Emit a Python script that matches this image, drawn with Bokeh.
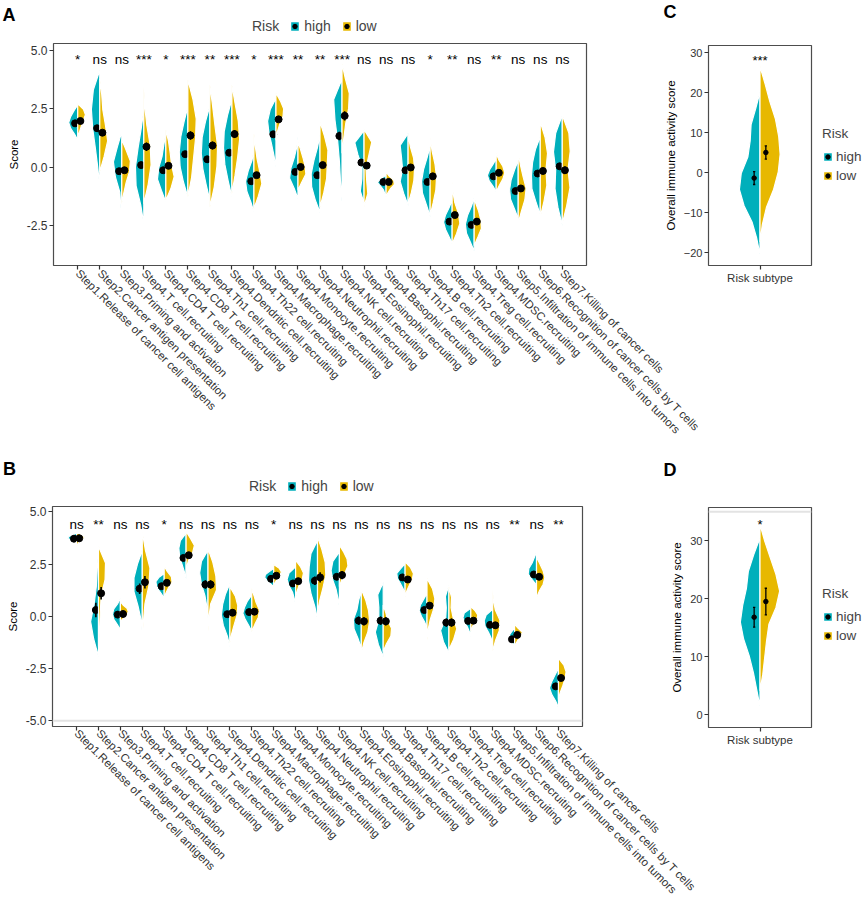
import numpy as np
from math import pi
from bokeh.plotting import figure
from bokeh.models import (FactorRange, Range1d, FixedTicker, NumeralTickFormatter,
                          Legend, LegendItem, Label, Span)
from bokeh.layouts import row, column
from bokeh.core.properties import value
from bokeh.embed import file_html
from bokeh.resources import INLINE

# ---------------------------------------------------------------- data
STEPS = [
    "Step1.Release of cancer cell antigens",
    "Step2.Cancer antigen presentation",
    "Step3.Priming and activation",
    "Step4.T cell.recruiting",
    "Step4.CD4 T cell.recruiting",
    "Step4.CD8 T cell.recruiting",
    "Step4.Th1 cell.recruiting",
    "Step4.Dendritic cell.recruiting",
    "Step4.Th22 cell.recruiting",
    "Step4.Macrophage.recruiting",
    "Step4.Monocyte.recruiting",
    "Step4.Neutrophil.recruiting",
    "Step4.NK cell.recruiting",
    "Step4.Eosinophil.recruiting",
    "Step4.Basophil.recruiting",
    "Step4.Th17 cell.recruiting",
    "Step4.B cell.recruiting",
    "Step4.Th2 cell.recruiting",
    "Step4.Treg cell.recruiting",
    "Step4.MDSC.recruiting",
    "Step5.Infiltration of immune cells into tumors",
    "Step6.Recognition of cancer cells by T cells",
    "Step7.Killing of cancer cells",
]
SUBTYPE = ["Risk subtype"]
GROUPS = ["high", "low"]
LEGEND_TITLE = "Risk"

A_SIG = ["*", "ns", "ns", "***", "*", "***", "**", "***", "*", "***", "**", "**",
         "***", "ns", "ns", "ns", "*", "**", "ns", "**", "ns", "ns", "ns"]
B_SIG = ["ns", "**", "ns", "ns", "*", "ns", "ns", "ns", "ns", "*", "ns", "ns",
         "ns", "ns", "ns", "ns", "ns", "ns", "ns", "ns", "**", "ns", "**"]
C_SIG = ["***"]
D_SIG = ["*"]

# violin halves: top, bottom, half-widths (top -> bottom), mean, error
A_HIGH_TOP = [2.67, 4.15, 1.52, 2.46, 1.45, 2.60, 2.63, 2.92, 0.73, 2.96, 1.28, 1.38,
              3.78, 1.57, -0.34, 1.45, 0.90, -1.42, -1.28, 0.37, 0.30, 1.31, 2.24]
A_HIGH_BOT = [1.16, -0.85, -2.36, -2.43, -1.49, -1.28, -1.42, -1.28, -1.93, 0.01, -1.35, -1.94,
              -1.49, -1.54, -1.28, -1.64, -2.11, -3.29, -3.60, -1.06, -2.21, -2.03, -2.50]
A_HIGH_W = [
    [0.17, 0.32, 0.41, 0.32, 0.14], [0.29, 0.38, 0.32, 0.20, 0.09],
    [0.20, 0.38, 0.29, 0.09, 0.04], [0.12, 0.26, 0.38, 0.35, 0.14],
    [0.09, 0.17, 0.32, 0.38, 0.20], [0.17, 0.32, 0.39, 0.35, 0.20],
    [0.20, 0.35, 0.39, 0.32, 0.17], [0.20, 0.35, 0.38, 0.32, 0.17],
    [0.09, 0.26, 0.38, 0.32, 0.14], [0.26, 0.38, 0.32, 0.20, 0.09],
    [0.06, 0.17, 0.32, 0.38, 0.17], [0.12, 0.28, 0.40, 0.38, 0.22],
    [0.38, 0.32, 0.20, 0.12, 0.07], [0.42, 0.28, 0.09, 0.10, 0.17],
    [0.25, 0.40, 0.25, 0.12, 0.06], [0.36, 0.30, 0.25, 0.36, 0.20],
    [0.14, 0.30, 0.39, 0.35, 0.17], [0.14, 0.30, 0.39, 0.30, 0.14],
    [0.12, 0.30, 0.40, 0.35, 0.17], [0.14, 0.30, 0.40, 0.32, 0.14],
    [0.17, 0.32, 0.39, 0.35, 0.17], [0.22, 0.35, 0.40, 0.38, 0.20],
    [0.30, 0.40, 0.30, 0.33, 0.20],
]
A_HIGH_MEAN = [1.88, 1.67, -0.17, 0.09, -0.13, 0.56, 0.34, 0.62, -0.60, 1.41, -0.20, -0.34,
               1.34, 0.20, -0.63, -0.13, -0.63, -2.33, -2.47, -0.39, -1.02, -0.27, 0.04]
A_HIGH_ERR = [0.08, 0.14, 0.10, 0.14, 0.10, 0.14, 0.14, 0.12, 0.10, 0.10, 0.10, 0.10,
              0.18, 0.08, 0.06, 0.10, 0.10, 0.10, 0.10, 0.08, 0.10, 0.12, 0.14]

A_LOW_TOP = [2.72, 3.78, 1.19, 3.46, 1.62, 3.75, 3.53, 3.53, 1.45, 3.18, 1.09, 1.95,
             4.44, 1.62, -0.20, 1.38, 1.24, -0.63, -1.14, 0.59, 0.59, 1.95, 2.24]
A_LOW_BOT = [1.31, -0.20, -1.57, -1.57, -1.42, -1.28, -1.71, -1.14, -1.78, 1.16, -0.99, -1.71,
             0.60, -1.68, -1.28, -1.57, -2.07, -3.29, -3.36, -1.06, -2.40, -2.14, -2.43]
A_LOW_W = [
    [0.26, 0.35, 0.26, 0.17, 0.09], [0.09, 0.14, 0.26, 0.36, 0.20],
    [0.20, 0.39, 0.35, 0.20, 0.09], [0.04, 0.14, 0.29, 0.33, 0.20],
    [0.12, 0.20, 0.26, 0.38, 0.23], [0.23, 0.38, 0.35, 0.26, 0.17],
    [0.12, 0.23, 0.35, 0.32, 0.20], [0.14, 0.29, 0.35, 0.26, 0.14],
    [0.06, 0.14, 0.26, 0.36, 0.20], [0.20, 0.35, 0.32, 0.17, 0.06],
    [0.12, 0.23, 0.32, 0.36, 0.17], [0.20, 0.36, 0.33, 0.30, 0.17],
    [0.15, 0.33, 0.30, 0.17, 0.08], [0.35, 0.22, 0.09, 0.12, 0.17],
    [0.14, 0.35, 0.38, 0.20, 0.08], [0.10, 0.25, 0.29, 0.26, 0.15],
    [0.09, 0.22, 0.29, 0.26, 0.14], [0.04, 0.12, 0.28, 0.35, 0.20],
    [0.06, 0.20, 0.30, 0.33, 0.17], [0.12, 0.30, 0.39, 0.30, 0.14],
    [0.10, 0.22, 0.36, 0.30, 0.14], [0.22, 0.33, 0.26, 0.30, 0.17],
    [0.30, 0.36, 0.26, 0.35, 0.20],
]
A_LOW_MEAN = [1.98, 1.48, -0.13, 0.88, 0.06, 1.36, 0.93, 1.42, -0.34, 2.05, 0.01, 0.09,
              2.20, 0.07, -0.63, -0.01, -0.39, -2.05, -2.33, -0.24, -0.91, -0.16, -0.13]
A_LOW_ERR = [0.08, 0.12, 0.10, 0.18, 0.10, 0.18, 0.17, 0.17, 0.10, 0.10, 0.08, 0.12,
             0.20, 0.08, 0.06, 0.10, 0.12, 0.10, 0.10, 0.08, 0.10, 0.14, 0.16]

B_HIGH_TOP = [3.98, 3.08, 0.86, 3.16, 2.05, 3.98, 3.16, 1.57, 1.02, 2.29, 2.37, 3.63,
              3.08, 1.22, 1.62, 2.52, 1.10, 1.49, 0.38, 0.33, -0.57, 3.08, -2.48]
B_HIGH_BOT = [3.48, -1.92, -0.65, -0.81, 0.86, 1.81, -0.10, -1.44, -0.73, 1.41, 0.54, -0.17,
              0.38, -1.52, -1.95, 1.10, -0.57, -1.76, -0.97, -1.29, -1.44, 1.49, -4.38]
B_HIGH_W = [
    [0.15, 0.35, 0.41, 0.25, 0.08], [0.06, 0.10, 0.20, 0.36, 0.22],
    [0.12, 0.30, 0.36, 0.30, 0.14], [0.22, 0.38, 0.38, 0.20, 0.06],
    [0.25, 0.38, 0.35, 0.25, 0.12], [0.26, 0.33, 0.30, 0.20, 0.09],
    [0.30, 0.38, 0.30, 0.14, 0.05], [0.20, 0.33, 0.39, 0.30, 0.12],
    [0.20, 0.33, 0.41, 0.30, 0.14], [0.20, 0.38, 0.41, 0.30, 0.15],
    [0.30, 0.39, 0.30, 0.14, 0.06], [0.30, 0.38, 0.41, 0.30, 0.12],
    [0.30, 0.38, 0.30, 0.15, 0.06], [0.12, 0.20, 0.36, 0.33, 0.15],
    [0.25, 0.20, 0.20, 0.36, 0.22], [0.20, 0.38, 0.35, 0.22, 0.10],
    [0.15, 0.30, 0.36, 0.25, 0.10], [0.16, 0.12, 0.15, 0.38, 0.25],
    [0.30, 0.36, 0.28, 0.15, 0.06], [0.30, 0.39, 0.35, 0.20, 0.08],
    [0.12, 0.22, 0.25, 0.20, 0.08], [0.10, 0.20, 0.35, 0.38, 0.20],
    [0.15, 0.30, 0.41, 0.30, 0.12],
]
B_HIGH_MEAN = [3.71, 0.30, 0.08, 1.32, 1.44, 2.79, 1.52, 0.10, 0.20, 1.79, 1.57, 1.70,
               1.89, -0.21, -0.21, 1.86, 0.30, -0.30, -0.22, -0.41, -1.10, 2.00, -3.35]
B_HIGH_ERR = [0.08, 0.35, 0.10, 0.25, 0.10, 0.15, 0.20, 0.15, 0.12, 0.08, 0.12, 0.20,
              0.15, 0.20, 0.20, 0.12, 0.12, 0.20, 0.10, 0.15, 0.08, 0.10, 0.12]

B_LOW_TOP = [4.03, 3.35, 0.70, 4.03, 2.40, 4.06, 3.24, 1.41, 1.33, 2.48, 2.68, 3.80,
             3.40, 1.29, 0.54, 2.60, 1.81, 1.41, 0.46, 1.29, -0.37, 2.84, -2.00]
B_LOW_BOT = [3.32, -1.44, -0.25, -1.13, 0.86, 2.05, -0.73, -1.29, -0.73, 1.41, 0.86, 0.14,
             1.41, -1.76, -1.68, 0.94, -1.13, -1.60, -0.73, -1.68, -1.52, 0.86, -3.98]
B_LOW_W = [
    [0.20, 0.36, 0.28, 0.12, 0.05], [0.32, 0.30, 0.12, 0.08, 0.05],
    [0.12, 0.30, 0.36, 0.30, 0.14], [0.14, 0.35, 0.30, 0.12, 0.05],
    [0.14, 0.33, 0.36, 0.20, 0.08], [0.20, 0.38, 0.30, 0.12, 0.04],
    [0.22, 0.36, 0.39, 0.12, 0.04], [0.25, 0.36, 0.33, 0.20, 0.08],
    [0.10, 0.20, 0.35, 0.30, 0.14], [0.25, 0.35, 0.28, 0.15, 0.06],
    [0.22, 0.36, 0.30, 0.15, 0.06], [0.20, 0.35, 0.38, 0.25, 0.10],
    [0.20, 0.35, 0.39, 0.25, 0.10], [0.20, 0.33, 0.38, 0.30, 0.12],
    [0.12, 0.20, 0.38, 0.35, 0.15], [0.25, 0.38, 0.33, 0.20, 0.08],
    [0.25, 0.36, 0.30, 0.15, 0.05], [0.12, 0.10, 0.20, 0.36, 0.22],
    [0.20, 0.32, 0.28, 0.15, 0.06], [0.03, 0.12, 0.33, 0.30, 0.12],
    [0.15, 0.35, 0.30, 0.15, 0.05], [0.15, 0.30, 0.38, 0.30, 0.12],
    [0.25, 0.35, 0.30, 0.20, 0.08],
]
B_LOW_MEAN = [3.73, 1.10, 0.11, 1.63, 1.60, 2.92, 1.52, 0.17, 0.22, 1.94, 1.68, 1.86,
              1.97, -0.24, -0.24, 1.76, 0.51, -0.30, -0.21, -0.43, -0.89, 1.89, -2.95]
B_LOW_ERR = [0.08, 0.30, 0.10, 0.30, 0.12, 0.15, 0.20, 0.15, 0.12, 0.08, 0.12, 0.25,
             0.20, 0.20, 0.20, 0.12, 0.15, 0.20, 0.10, 0.15, 0.10, 0.12, 0.12]

C_HIGH_TOP = [20.1]
C_HIGH_BOT = [-20.5]
C_HIGH_W = [[0.09, 0.19, 0.21, 0.26, 0.40, 0.44, 0.34, 0.17, 0.07]]
C_HIGH_MEAN = [-1.4]
C_HIGH_ERR = [1.6]
C_LOW_TOP = [26.5]
C_LOW_BOT = [-17.4]
C_LOW_W = [[0.11, 0.21, 0.33, 0.40, 0.43, 0.39, 0.29, 0.14, 0.05]]
C_LOW_MEAN = [5.0]
C_LOW_ERR = [1.65]

D_HIGH_TOP = [30.5]
D_HIGH_BOT = [1.38]
D_HIGH_W = [[0.135, 0.25, 0.29, 0.37, 0.42, 0.35, 0.23, 0.14, 0.07]]
D_HIGH_MEAN = [16.8]
D_HIGH_ERR = [1.7]
D_LOW_TOP = [32.8]
D_LOW_BOT = [4.1]
D_LOW_W = [[0.10, 0.22, 0.34, 0.42, 0.34, 0.19, 0.14, 0.10, 0.06]]
D_LOW_MEAN = [19.5]
D_LOW_ERR = [2.3]

B_REF_LINE = -5.0
D_REF_LINE = 35.0

# ---------------------------------------------------------------- style
FONT = "Liberation Sans"
TEAL = "#00AFBB"
GOLD = "#E7B800"
AXIS_COL = "#333333"
PAGE_W = 864
SIDE_W = 214
TOP_H = 448
BOT_H = 454


def half_violin(center, top, bot, widths, side):
    ys = np.linspace(top, bot, len(widths) + 2)
    ws = np.concatenate([[0.0], np.asarray(widths, float), [0.0]])
    return list(center + side * ws), list(ys)


def draw_split(p, n, high, low, dodge, dot_size, err_lw, cap):
    centers = np.arange(n) + 0.5
    for spec, side, color in ((high, -1, TEAL), (low, 1, GOLD)):
        top, bot, wid, mean, err = spec
        xs, ys = [], []
        for c, t, b, w in zip(centers, top, bot, wid):
            hx, hy = half_violin(c, t, b, w, side)
            xs.append(hx)
            ys.append(hy)
        p.patches(xs, ys, fill_color=color, line_color="white", line_width=1.2)
        xd = centers + side * dodge
        m = np.asarray(mean, float)
        e = np.asarray(err, float)
        p.segment(x0=xd, y0=m - e, x1=xd, y1=m + e, line_color="black", line_width=err_lw)
        if cap:
            p.segment(x0=xd - cap, y0=m - e, x1=xd + cap, y1=m - e, line_color="black", line_width=err_lw)
            p.segment(x0=xd - cap, y0=m + e, x1=xd + cap, y1=m + e, line_color="black", line_width=err_lw)
        p.scatter(x=xd, y=m, size=dot_size, fill_color="black", line_color="black")
    return centers


def style(p, xfs, yfs, tfs="11.5px"):
    p.xgrid.visible = False
    p.ygrid.visible = False
    p.outline_line_color = "#4d4d4d"
    p.outline_line_width = 1.2
    p.background_fill_color = "white"
    for ax, fs in ((p.xaxis[0], xfs), (p.yaxis[0], yfs)):
        ax.axis_line_color = None
        ax.major_tick_line_color = AXIS_COL
        ax.major_tick_line_width = 1.2
        ax.major_tick_in = 0
        ax.major_tick_out = 4
        ax.minor_tick_line_color = None
        ax.major_label_text_font = FONT
        ax.major_label_text_font_size = fs
        ax.major_label_text_color = AXIS_COL
        ax.major_label_standoff = 2
        ax.axis_label_text_font = FONT
        ax.axis_label_text_font_size = tfs
        ax.axis_label_text_font_style = "normal"
        ax.axis_label_text_color = "black"
        ax.axis_label_standoff = 4


def sig_text(p, centers, sig, y, fs="13.5px"):
    p.text(x=centers, y=[y] * len(centers), text=sig, text_align="center",
           text_baseline="alphabetic", text_font=value(FONT), text_font_size=fs,
           text_color="black")


# ------------- transparent full-size helper figures (frame may start at an offset)
def bare(width, height, xr, yr, left=0, top=0):
    o = figure(width=width, height=height, x_range=xr, y_range=yr,
               x_axis_location=None, y_axis_location=None, toolbar_location=None,
               output_backend="svg", min_border=0, min_border_left=left, min_border_top=top,
               min_border_right=0, min_border_bottom=0)
    o.xgrid.visible = False
    o.ygrid.visible = False
    o.outline_line_color = None
    o.background_fill_color = None
    o.border_fill_color = None
    return o


def letters_overlay(width, height, marks):
    o = bare(width, height, Range1d(0, width), Range1d(height, 0))
    for txt, x, y in marks:
        o.add_layout(Label(x=x, y=y, text=txt, text_font=FONT, text_font_style="bold",
                           text_font_size="18px", text_baseline="middle", text_color="black"))
    return o


def key_renderers(o):
    # legend-key glyphs, kept outside the visible range of this helper figure
    blank = o.scatter(x=[], y=[], fill_alpha=0, line_alpha=0)
    keys = {}
    for g, color in zip(GROUPS, (TEAL, GOLD)):
        patch = o.patches(xs=[[-3, -3, -2]], ys=[[-3, -2, -2]], fill_color=color,
                          line_color="white", line_width=1.2)
        dot = o.scatter(x=[-3], y=[-3], size=4, fill_color="black", line_color="black")
        keys[g] = [patch, dot]
    return blank, keys


def top_legend_fig(width, height, left, top):
    o = bare(width, height, Range1d(0, 1), Range1d(0, 1), left, top)
    blank, keys = key_renderers(o)
    items = [LegendItem(label=value(LEGEND_TITLE), renderers=[blank])]
    items += [LegendItem(label=value(g), renderers=keys[g]) for g in GROUPS]
    o.add_layout(Legend(items=items, location="top_left", orientation="horizontal",
                        glyph_width=11, glyph_height=12, label_height=12, label_width=0,
                        label_standoff=4, spacing=10, padding=0, margin=0,
                        border_line_color=None, background_fill_alpha=0,
                        label_text_font=FONT, label_text_font_size="14px"))
    return o


def side_legend_fig(width, height, left, top):
    o = bare(width, height, Range1d(0, 1), Range1d(0, 1), left, top)
    _, keys = key_renderers(o)
    o.add_layout(Legend(items=[LegendItem(label=value(g), renderers=keys[g]) for g in GROUPS],
                        location="top_left", orientation="vertical",
                        glyph_width=11, glyph_height=11, label_height=11, label_width=0,
                        label_standoff=3, spacing=4, padding=0, margin=0,
                        border_line_color=None, background_fill_alpha=0,
                        title=LEGEND_TITLE, title_text_font=FONT, title_text_font_size="13.5px",
                        title_text_font_style="normal", title_standoff=8,
                        label_text_font=FONT, label_text_font_size="13.5px"))
    return o


def place(fig, cursor, x, y=0):
    fig.margin = (int(round(y)), 0, 0, int(round(x - cursor)))
    return x + fig.width


# ---------------------------------------------------------------- panel A
pA = figure(width=PAGE_W, height=TOP_H,
            x_range=FactorRange(factors=STEPS, range_padding=0.6, range_padding_units="absolute"),
            y_range=Range1d(-4.21, 5.30), toolbar_location=None, output_backend="svg",
            min_border_left=53, min_border_right=PAGE_W - 53 - 533,
            min_border_top=43, min_border_bottom=TOP_H - 43 - 222)
cA = draw_split(pA, len(STEPS),
                (A_HIGH_TOP, A_HIGH_BOT, A_HIGH_W, A_HIGH_MEAN, A_HIGH_ERR),
                (A_LOW_TOP, A_LOW_BOT, A_LOW_W, A_LOW_MEAN, A_LOW_ERR),
                dodge=0.12, dot_size=7, err_lw=1.6, cap=None)
sig_text(pA, cA, A_SIG, 4.6)
style(pA, "11.5px", "12px")
pA.border_fill_color = "white"
pA.yaxis.ticker = FixedTicker(ticks=[-2.5, 0, 2.5, 5.0])
pA.yaxis.formatter = NumeralTickFormatter(format="0.0")
pA.yaxis.axis_label = "Score"
pA.xaxis.major_label_orientation = -pi / 4

# ---------------------------------------------------------------- panel B
pB = figure(width=PAGE_W, height=BOT_H,
            x_range=FactorRange(factors=STEPS, range_padding=0.6, range_padding_units="absolute"),
            y_range=Range1d(-5.27, 5.25), toolbar_location=None, output_backend="svg",
            min_border_left=52, min_border_right=PAGE_W - 52 - 530,
            min_border_top=58, min_border_bottom=BOT_H - 58 - 221)
pB.add_layout(Span(location=B_REF_LINE, dimension="width", line_color="#e3e3e3", line_width=2))
cB = draw_split(pB, len(STEPS),
                (B_HIGH_TOP, B_HIGH_BOT, B_HIGH_W, B_HIGH_MEAN, B_HIGH_ERR),
                (B_LOW_TOP, B_LOW_BOT, B_LOW_W, B_LOW_MEAN, B_LOW_ERR),
                dodge=0.12, dot_size=7, err_lw=1.6, cap=None)
sig_text(pB, cB, B_SIG, 4.4)
style(pB, "11.5px", "12px")
pB.border_fill_color = "white"
pB.yaxis.ticker = FixedTicker(ticks=[-5.0, -2.5, 0, 2.5, 5.0])
pB.yaxis.formatter = NumeralTickFormatter(format="0.0")
pB.yaxis.axis_label = "Score"
pB.xaxis.major_label_orientation = -pi / 4
pB.xaxis.major_label_standoff = 1

# ---------------------------------------------------------------- panel C
pC = figure(width=SIDE_W, height=TOP_H,
            x_range=FactorRange(factors=SUBTYPE, range_padding=0.6, range_padding_units="absolute"),
            y_range=Range1d(-23.25, 31.75), toolbar_location=None, output_backend="svg",
            min_border_left=58, min_border_right=SIDE_W - 58 - 103,
            min_border_top=45, min_border_bottom=TOP_H - 45 - 220)
cC = draw_split(pC, 1,
                (C_HIGH_TOP, C_HIGH_BOT, C_HIGH_W, C_HIGH_MEAN, C_HIGH_ERR),
                (C_LOW_TOP, C_LOW_BOT, C_LOW_W, C_LOW_MEAN, C_LOW_ERR),
                dodge=0.125, dot_size=4.5, err_lw=1.3, cap=0.025)
sig_text(pC, cC, C_SIG, 28.0, "13px")
style(pC, "11.5px", "11px")
pC.border_fill_color = None
pC.yaxis.ticker = FixedTicker(ticks=[-20, -10, 0, 10, 20, 30])
pC.yaxis.axis_label = "Overall immune activity score"

# ---------------------------------------------------------------- panel D
pD = figure(width=SIDE_W, height=BOT_H,
            x_range=FactorRange(factors=SUBTYPE, range_padding=0.6, range_padding_units="absolute"),
            y_range=Range1d(-2.24, 35.74), toolbar_location=None, output_backend="svg",
            min_border_left=58, min_border_right=SIDE_W - 58 - 103,
            min_border_top=59, min_border_bottom=BOT_H - 59 - 220)
pD.add_layout(Span(location=D_REF_LINE, dimension="width", line_color="#e3e3e3", line_width=2))
cD = draw_split(pD, 1,
                (D_HIGH_TOP, D_HIGH_BOT, D_HIGH_W, D_HIGH_MEAN, D_HIGH_ERR),
                (D_LOW_TOP, D_LOW_BOT, D_LOW_W, D_LOW_MEAN, D_LOW_ERR),
                dodge=0.125, dot_size=4.5, err_lw=1.3, cap=0.025)
sig_text(pD, cD, D_SIG, 32.8, "13px")
style(pD, "11.5px", "11px")
pD.border_fill_color = None
pD.yaxis.ticker = FixedTicker(ticks=[0, 10, 20, 30])
pD.yaxis.axis_label = "Overall immune activity score"

# ---------------------------------------------------------------- letters and legends
oTop = letters_overlay(PAGE_W, TOP_H, [("A", 2, 14), ("C", 663, 11)])
oBot = letters_overlay(PAGE_W, BOT_H, [("B", 2.5, 20), ("D", 663, 21)])
legA = top_legend_fig(PAGE_W, TOP_H, 237, 18)
legC = side_legend_fig(PAGE_W, TOP_H, 822, 126)
legB = top_legend_fig(PAGE_W, BOT_H, 234, 30)
legD = side_legend_fig(PAGE_W, BOT_H, 822, 138)

# every figure keeps its own frame (no frame alignment across a row)
for f in (pA, pB, pC, pD, oTop, oBot, legA, legB, legC, legD):
    if "frame_align" in f.properties():
        f.frame_align = False

# ---------------------------------------------------------------- layout (overlapping rows)
cur = PAGE_W
cur = place(pC, cur, PAGE_W - SIDE_W)
for f in (oTop, legA, legC):
    cur = place(f, cur, 0)
top_row = row(pA, pC, oTop, legA, legC)

cur = PAGE_W
cur = place(pD, cur, PAGE_W - SIDE_W)
for f in (oBot, legB, legD):
    cur = place(f, cur, 0)
bot_row = row(pB, pD, oBot, legB, legD)

page = column(top_row, bot_row)

open("out.html", "w").write(file_html(page, INLINE))
